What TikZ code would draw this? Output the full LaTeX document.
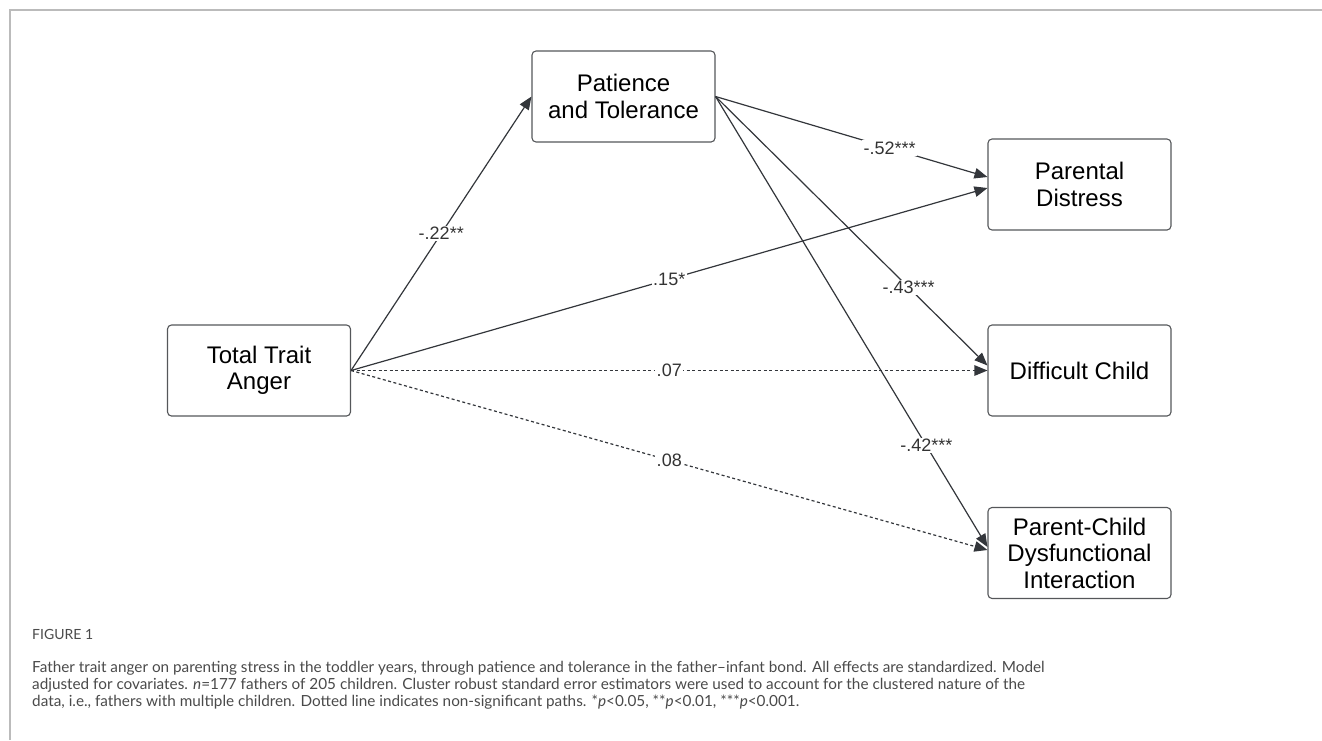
\documentclass[tikz,border=0pt]{standalone}
\usepackage{fontspec}
\setmainfont{Liberation Sans}
\newfontfamily\capfont{Lato}
\usetikzlibrary{arrows.meta}
\definecolor{framec}{HTML}{BBBBBB}
\definecolor{linec}{HTML}{33363B}
\definecolor{boxc}{HTML}{55575A}
\definecolor{capc}{HTML}{4A4A4A}
\tikzset{
  varbox/.style={draw=boxc, line width=1.1pt, rounded corners=4pt,
    minimum width=183pt, minimum height=91pt, align=center,
    font=\fontsize{24}{26.5}\selectfont, text=black, inner sep=0pt},
  pathline/.style={draw=linec, line width=1.2pt,
    -{Triangle[length=13pt,width=10.5pt]}},
  nsline/.style={pathline, dash pattern=on 3pt off 2.5pt},
  coef/.style={fill=white, inner sep=1.5pt,
    font=\fontsize{18}{20}\selectfont, text=black!80},
  captext/.style={anchor=base west, inner sep=0pt, text=capc,
    font=\capfont\fontsize{15.3}{17}\selectfont}
}
\begin{document}
\begin{tikzpicture}[x=1pt,y=-1pt]
\useasboundingbox (0,0) rectangle (1322,740);
\draw[framec, line width=1.5pt] (10,740) -- (10,10) -- (1322,10);

\node[varbox] (TTA) at (259,370.5) {Total Trait\\Anger};
\node[varbox] (PT) at (623.5,96.5) {Patience\\and Tolerance};
\node[varbox] (PD) at (1079.5,184.5) {Parental\\Distress};
\node[varbox] (DC) at (1079.5,370.5) {Difficult Child};
\node[varbox] (PC) at (1079.5,553) {Parent-Child\\Dysfunctional\\Interaction};

\draw[pathline] (TTA.east) -- node[coef, pos=0.5] {-.22**} (PT.west);
\draw[pathline] (PT.east) -- node[coef, pos=0.64] {-.52***} ([yshift=7.5pt]PD.west);
\draw[pathline] (PT.east) -- node[coef, pos=0.71] {-.43***} ([yshift=5pt]DC.west);
\draw[pathline] (PT.east) -- node[coef, pos=0.775] {-.42***} ([yshift=6pt]PC.west);
\draw[pathline] (TTA.east) -- node[coef, pos=0.5] {.15*} ([yshift=-3.5pt]PD.west);
\draw[nsline] (TTA.east) -- node[coef, pos=0.5] {.07} (DC.west);
\draw[nsline] (TTA.east) -- node[coef, pos=0.5] {.08} ([yshift=3pt]PC.west);

\node[captext, font=\capfont\fontsize{14}{16}\selectfont, text=capc] (fig) at (32,639) {FIGURE 1};
\node[captext] (cap1) at (32,672) {Father trait anger on parenting stress in the toddler years, through patience and tolerance in the father–infant bond. All effects are standardized. Model};
\node[captext] (cap2) at (32,689) {adjusted for covariates. \textit{n}=177 fathers of 205 children. Cluster robust standard error estimators were used to account for the clustered nature of the};
\node[captext] (cap3) at (32,706) {data, i.e., fathers with multiple children. Dotted line indicates non-significant paths. *\textit{p}<0.05, **\textit{p}<0.01, ***\textit{p}<0.001.};
\end{tikzpicture}
\end{document}
